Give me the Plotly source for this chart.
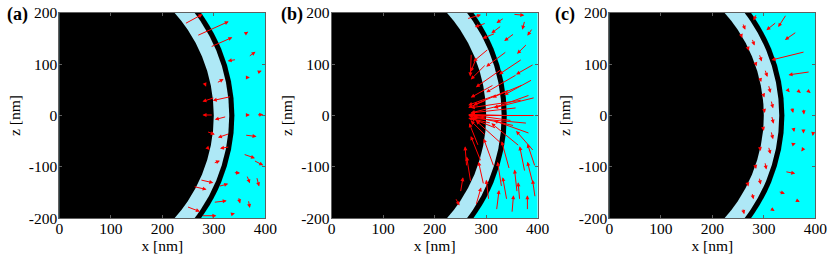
import plotly.graph_objects as go

# geometry (nm)
CORE_R = 300
SHELL_R = 330
RING_R = 340

x_ticks = [0, 100, 200, 300, 400]
x_tick_text = ["0", "100", "200", "300", "400"]
z_ticks = [-200, -100, 0, 100, 200]
z_tick_text = ["-200", "-100", "0", "100", "200"]
panel_labels = ["(a)", "(b)", "(c)"]

# Panel (a) arrows: tail x, tail z, dx, dz  (nm)
a_x = [243, 267, 293, 344, 367, 359, 328, 281, 305, 360, 383, 302, 334, 299, 325, 360, 383,
       286, 331, 360, 286, 331, 357, 377, 299, 338, 364, 383, 273, 260, 309, 348, 367, 247, 299, 276, 331]
a_z = [178, 155, 133, 109, 114, 158, 192, 66, 63, 74, 83, 35, 37, 1, -2, 1, 1,
       -31, -35, -38, -61, -61, -75, -87, -93, -111, -116, -119, -125, -138, -138, -158, -164, -177, -169, -195, -193]
a_u = [35, 62, 43, -17, 14, 8, 3, 4, 14, 10, 10, -24, -36, -21, -23, 10, 13,
       16, -23, 23, 6, -19, 23, 19, 13, 13, 6, 5, 26, 26, 19, 3, 3, 26, 26, 29, 10]
a_w = [19, 28, 19, -3, 10, 5, 3, -10, 8, 0, 4, -8, -8, 0, -6, 0, 1,
       -6, -8, -3, -6, -3, -8, -10, 5, -1, -16, -19, -6, -6, 5, -13, -16, -10, 3, 0, 3]

# Panel (b) arrows
b_x = [262, 300, 335, 352, 375, 390, 318, 355, 380, 271, 305, 340, 370, 393, 300, 330, 360, 390,
       315, 345, 385, 300, 330, 360, 395, 340, 300, 320, 355, 385, 300, 330, 365, 393,
       262, 290, 315, 345, 375, 295, 330, 360, 390, 250, 240, 280, 320, 350, 380, 365,
       320, 370, 350, 380, 310, 285, 270, 305, 340, 395, 395, 330, 280, 372, 395]
b_z = [188, 180, 190, 197, 185, 170, 160, 160, 140, 121, 130, 125, 110, 100, 100, 90, 80, 70,
       60, 50, 40, 30, 20, 15, 0, 0, -5, -25, -20, -35, -40, -55, -60, -70,
       -100, -90, -100, -105, -110, -135, -140, -150, -130, -150, -160, -175, -185, -190, -185, -165,
       40, 30, -10, -15, -15, -60, -130, -165, -165, -100, -160, 175, 110, 60, 35]
b_u = [28, -22, -15, 22, -5, -10, -25, -20, -20, -2, -30, -40, -45, -35, -30, -50, -60, -55,
       -45, -70, -70, -35, -60, -90, -128, -70, -35, -50, -80, -70, -30, -50, -55, -35,
       -3, -20, -20, -15, -10, -10, -8, -5, -10, 5, 8, 10, 5, 3, 0, -3,
       -55, -100, -85, -110, -45, -18, -8, -5, -8, -15, -5, -20, -10, -60, -80]
b_w = [8, -8, -10, -2, -18, -15, -10, -15, -20, -45, -25, -30, -30, -20, -30, -35, -35, -30,
       -25, -30, -25, -15, -15, -10, 0, 2, 5, 20, 18, 25, 30, 45, 45, 40,
       40, 50, 55, 55, 50, 45, 50, 45, 40, 30, -15, 35, 40, 35, 30, 35,
       -20, -15, 12, 10, 10, 45, 50, 40, 45, 45, 35, -15, -25, -25, -20]

# Panel (c) arrows
c_x = [286, 344, 364, 380, 390, 325,
       344, 364, 383, 354, 377, 357, 377, 396, 354, 377,
       341, 328, 361, 312,
       259, 277, 291, 302, 309, 314, 315, 314, 309, 302, 291, 277, 259,
       255, 268, 283, 292, 298, 300, 298, 292, 283, 268]
c_z = [198, 197, 163, 124, 85, 182,
       53, 50, 50, 17, 14, -22, -25, -32, -57, -64,
       -109, -148, -164, -180,
       180, 150, 120, 90, 60, 30, 0, -30, -60, -90, -120, -150, -180,
       160, 135, 105, 75, 45, 15, -20, -60, -95, -130]
c_u = [-6, -16, -23, -65, -42, -20,
       6, 8, 8, 3, 1, 2, 0, -1, 8, -4,
       20, 13, 9, 9,
       5, 5, 5, 5, 4, 4, 4, 4, 4, 3, 3, 3, 3,
       3, 3, 3, 3, 3, 2, 2, 2, 2, 2]
c_w = [-13, -25, -16, -16, -6, -16,
       -8, -6, -6, -12, -12, -10, -10, -8, 3, -6,
       -4, -4, -4, -6,
       -13, -14, -15, -15, -16, -16, -16, -16, -15, -15, -14, -13, -12,
       -9, -9, -9, -10, -10, -10, -10, -9, -9, -8]

panels = [(a_x, a_z, a_u, a_w), (b_x, b_z, b_u, b_w), (c_x, c_z, c_u, c_w)]

W, H = 830, 256
x_dom_px = [(59.3, 265.3), (331.7, 537.7), (609.3, 815.3)]
y_dom = [37.7 / H, 243.3 / H]
label_x_px = [5, 279, 553]

FONT = "Liberation Serif, Times New Roman, serif"
CYAN = "#00FFFF"
LIGHT = "#AEE8F6"

fig = go.Figure()
layout = dict(width=W, height=H, margin=dict(l=0, r=0, t=0, b=0, autoexpand=False),
              paper_bgcolor="white", showlegend=False,
              font=dict(family=FONT, size=15, color="black"))
shapes = []
annotations = []

for i in range(3):
    n = "" if i == 0 else str(i + 1)
    xa, ya = "x" + n, "y" + n
    axis_common = dict(showgrid=False, zeroline=False, showline=True, mirror="ticks",
                       linecolor="#606060", linewidth=1, ticks="inside", ticklen=3,
                       tickcolor="#606060", automargin=False,
                       tickfont=dict(family=FONT, size=15.5, color="black"))
    layout["xaxis" + n] = dict(axis_common, domain=[x_dom_px[i][0] / W, x_dom_px[i][1] / W],
                               range=[0, 400], tickvals=x_ticks, ticktext=x_tick_text,
                               anchor=ya, ticklabelstandoff=-4,
                               title=dict(text="x [nm]", font=dict(family=FONT, size=15.5), standoff=0))
    layout["yaxis" + n] = dict(axis_common, domain=y_dom, range=[-200, 200], tickvals=z_ticks,
                               ticktext=z_tick_text, anchor=xa, ticklabelstandoff=-2,
                               title=dict(text="z [nm]", font=dict(family=FONT, size=15.5), standoff=4))
    shapes.append(dict(type="rect", xref=xa, yref=ya, x0=0, x1=400, y0=-200, y1=200,
                       fillcolor=CYAN, line=dict(width=0), layer="below"))
    for r, col in [(RING_R, "black"), (SHELL_R, LIGHT), (CORE_R, "black")]:
        shapes.append(dict(type="circle", xref=xa, yref=ya, x0=-r, x1=r, y0=-r, y1=r,
                           fillcolor=col, line=dict(width=0), layer="below"))
    px, pz, pu, pw = panels[i]
    for xt, zt, u, w in zip(px, pz, pu, pw):
        annotations.append(dict(x=xt + u, y=zt + w, ax=xt, ay=zt, xref=xa, yref=ya,
                                axref=xa, ayref=ya, text="", showarrow=True,
                                arrowhead=2, arrowsize=0.8, arrowwidth=1, arrowcolor="red"))
    annotations.append(dict(text="<b>" + panel_labels[i] + "</b>", xref="paper", yref="paper",
                            x=label_x_px[i] / W, y=1 - 14 / H, xanchor="left", yanchor="middle",
                            showarrow=False, font=dict(family=FONT, size=18, color="black")))

layout["shapes"] = shapes
layout["annotations"] = annotations
fig.update_layout(**layout)
fig.write_html("out.html", post_script="document.body.style.margin='0px';",
               config={"displayModeBar": False})
